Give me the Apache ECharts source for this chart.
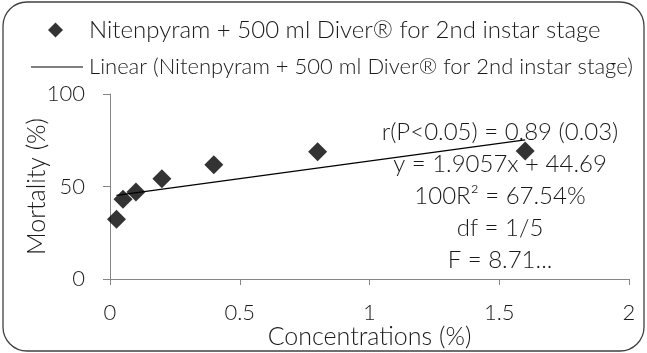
<!DOCTYPE html>
<html>
<head>
<meta charset="utf-8">
<script src="https://cdn.jsdelivr.net/npm/echarts@6/dist/echarts.min.js"></script>
<style>
html,body{margin:0;padding:0;background:#fff;}
#chart{width:647px;height:353px;}
</style>
</head>
<body>
<div id="chart"></div>
<script>
// Concentration (%) and observed mortality (%)
const concentrations = [0.025, 0.05, 0.1, 0.2, 0.4, 0.8, 1.6];
const mortality = [32.3, 43.1, 47.0, 54.2, 61.8, 68.8, 69.2];

// Fitted linear trend (plotted over the concentration range)
const trendSlope = 19.057;
const trendIntercept = 44.69;

const xTicks = [0, 0.5, 1, 1.5, 2];
const yTicks = [0, 50, 100];

const seriesName = 'Nitenpyram + 500 ml Diver® for 2nd instar stage';
const trendName = 'Linear (Nitenpyram + 500 ml Diver® for 2nd instar stage)';

const statsLines = [
  'r(P<0.05) = 0.89 (0.03)',
  'y = 1.9057x + 44.69',
  '100R² = 67.54%',
  'df = 1/5',
  'F = 8.71...'
];

const FONT = 'Lato';
const TEXT = '#1a1a1a';
const points = concentrations.map((c, i) => [c, mortality[i]]);
const xFirst = concentrations[0];
const xLast = concentrations[concentrations.length - 1];
const trendPoints = [
  [xFirst, trendSlope * xFirst + trendIntercept],
  [xLast, trendSlope * xLast + trendIntercept]
];

const chart = echarts.init(document.getElementById('chart'), null, {renderer: 'canvas'});

const statsGraphics = statsLines.map((t, i) => ({
  type: 'text',
  x: 500,
  y: 132 + i * 32,
  style: {
    text: t,
    fill: TEXT,
    font: '300 24px ' + FONT,
    textAlign: 'center',
    textVerticalAlign: 'middle'
  },
  z: 10
}));

chart.setOption({
  animation: false,
  backgroundColor: '#fff',
  textStyle: {fontFamily: FONT},
  grid: {left: 110, right: 18, top: 94, bottom: 74, containLabel: false, outerBoundsMode: 'none'},
  legend: [
    {
      data: [seriesName],
      icon: 'diamond',
      itemWidth: 15,
      itemHeight: 15,
      padding: 0,
      left: 48,
      top: 18,
      textStyle: {fontSize: 24, color: TEXT, fontFamily: FONT, fontWeight: 300, padding: [0, 0, 0, 21]}
    },
    {
      data: [trendName],
      icon: 'rect',
      itemWidth: 52,
      itemHeight: 1,
      padding: 0,
      left: 31,
      top: 56,
      textStyle: {fontSize: 22, color: TEXT, fontFamily: FONT, fontWeight: 300, padding: [0, 0, 0, 1]}
    }
  ],
  xAxis: {
    type: 'value',
    min: 0,
    max: 2,
    interval: 0.5,
    name: 'Concentrations (%)',
    nameLocation: 'middle',
    nameGap: 45,
    nameMoveOverlap: false,
    nameTextStyle: {fontSize: 25, color: TEXT, fontFamily: FONT, fontWeight: 300},
    axisLine: {show: true, lineStyle: {color: '#868686', width: 1}},
    axisTick: {show: true, length: 6, lineStyle: {color: '#868686'}},
    axisLabel: {fontSize: 22, color: TEXT, margin: 23, fontFamily: FONT, fontWeight: 300,
      formatter: v => String(v)},
    splitLine: {show: false}
  },
  yAxis: {
    type: 'value',
    min: 0,
    max: 100,
    interval: 50,
    name: 'Mortality (%)',
    nameLocation: 'middle',
    nameGap: 61,
    nameMoveOverlap: false,
    nameRotate: 90,
    nameTextStyle: {fontSize: 25, color: TEXT, fontFamily: FONT, fontWeight: 300},
    axisLine: {show: true, lineStyle: {color: '#868686', width: 1}},
    axisTick: {show: true, length: 7, lineStyle: {color: '#868686'}},
    axisLabel: {fontSize: 22, color: TEXT, margin: 25, fontFamily: FONT, fontWeight: 300},
    splitLine: {show: false}
  },
  series: [
    {
      name: seriesName,
      type: 'scatter',
      data: points,
      symbol: 'diamond',
      symbolSize: 19,
      itemStyle: {color: '#000'},
      z: 3
    },
    {
      name: trendName,
      type: 'line',
      data: trendPoints,
      symbol: 'none',
      lineStyle: {color: '#000', width: 1.3},
      itemStyle: {color: '#000'},
      z: 4
    }
  ],
  graphic: [
    {
      type: 'rect',
      shape: {x: 3, y: 2, width: 641, height: 349, r: 24},
      style: {fill: 'none', stroke: '#404040', lineWidth: 1.3},
      z: 0
    }
  ].concat(statsGraphics)
});
</script>
</body>
</html>
